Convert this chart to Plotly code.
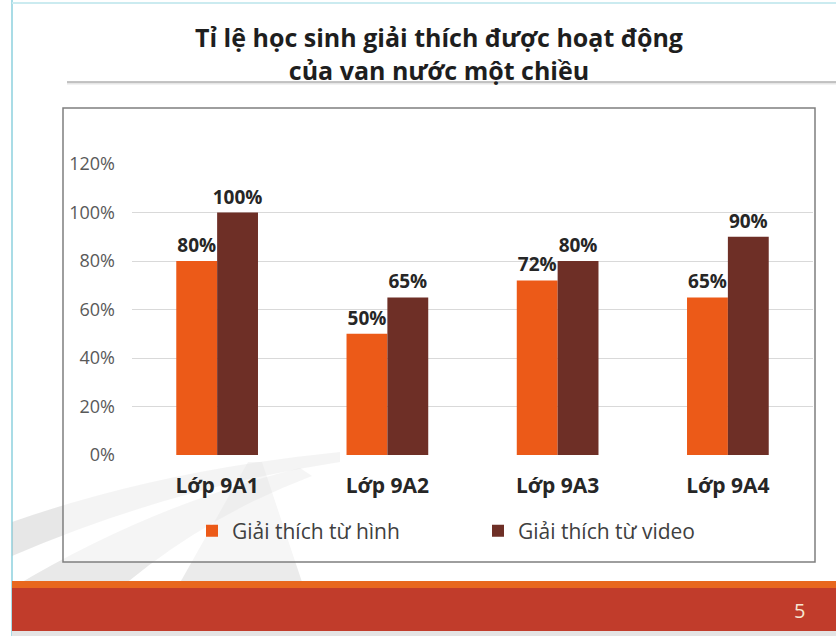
import plotly.graph_objs as go

# data
classes = ['Lớp 9A1', 'Lớp 9A2', 'Lớp 9A3', 'Lớp 9A4']
from_picture = [0.80, 0.50, 0.72, 0.65]
from_video = [1.00, 0.65, 0.80, 0.90]
series_names = ['Giải thích từ hình', 'Giải thích từ video']
y_ticks = [0, 0.2, 0.4, 0.6, 0.8, 1.0, 1.2]
y_ticklabels = ['0%', '20%', '40%', '60%', '80%', '100%', '120%']
title = 'Tỉ lệ học sinh giải thích được hoạt động<br>của van nước một chiều'

W, H = 836, 636
FONT = 'Open Sans'


def px(x):
    return x / W


def py(y):
    return 1 - y / H


def path(points):
    # points: list of (cmd, [(x, y), ...]) in pixel coordinates
    out = ''
    for cmd, pts in points:
        out += cmd + ' ' + ' '.join('%.4f,%.4f' % (px(x), py(y)) for x, y in pts) + ' '
    return out + 'Z'


label_font = dict(family=FONT, size=19, color='#262626', weight='bold')
trace1 = go.Bar(x=classes, y=from_picture, name=series_names[0], marker=dict(color='#EC5A18', line=dict(width=0)),
                text=['%d%%' % round(v * 100) for v in from_picture], textposition='outside', cliponaxis=False,
                constraintext='none', textfont=label_font)
trace2 = go.Bar(x=classes, y=from_video, name=series_names[1], marker=dict(color='#6E2F26', line=dict(width=0)),
                text=['%d%%' % round(v * 100) for v in from_video], textposition='outside', cliponaxis=False,
                constraintext='none', textfont=label_font)

shapes = [
    # left cyan border and top border
    dict(type='line', x0=px(12), x1=px(12), y0=0, y1=1, line=dict(color='#A9DCE6', width=2)),
    dict(type='line', x0=px(12), x1=1, y0=py(3), y1=py(3), line=dict(color='#CBEBF0', width=2)),
    # background swooshes
    dict(type='path', path=path([('M', [(12, 522)]), ('Q', [(160, 470), (340, 452)]), ('L', [(340, 462)]),
                                 ('Q', [(170, 488), (12, 556)])]),
         fillcolor='rgba(175,175,175,0.30)', line=dict(width=0)),
    dict(type='path', path=path([('M', [(12, 588)]), ('Q', [(150, 505), (300, 468)]), ('L', [(312, 476)]),
                                 ('Q', [(170, 530), (70, 636)]), ('L', [(12, 636)])]),
         fillcolor='rgba(175,175,175,0.28)', line=dict(width=0)),
    dict(type='path', path=path([('M', [(150, 636)]), ('L', [(248, 462)]), ('L', [(262, 462)]), ('L', [(320, 636)])]),
         fillcolor='rgba(175,175,175,0.25)', line=dict(width=0)),
    # title underline
    dict(type='line', x0=px(67), x1=1, y0=py(83), y1=py(83), line=dict(color='#E6E6E6', width=3)),
    dict(type='line', x0=px(67), x1=1, y0=py(82), y1=py(82), line=dict(color='#B5B5B5', width=1.5)),
    # chart box
    dict(type='rect', x0=px(63), x1=px(815), y0=py(562), y1=py(108),
         fillcolor='rgba(255,255,255,0.55)', line=dict(color='#7F7F7F', width=1.5)),
    # footer bar
    dict(type='rect', x0=px(12), x1=1, y0=py(588), y1=py(581), fillcolor='#E8671E', line=dict(width=0)),
    dict(type='rect', x0=px(12), x1=1, y0=py(631), y1=py(588), fillcolor='#C13C2B', line=dict(width=0)),
    dict(type='rect', x0=px(12), x1=1, y0=0, y1=py(631), fillcolor='#E4E4E4', line=dict(width=0)),
]
for s in shapes:
    s.update(xref='paper', yref='paper', layer='below')

annotations = [
    dict(text='<b>' + title + '</b>', x=px(439), y=py(54),
         font=dict(family=FONT, size=25, color='#1E1E1E')),
    dict(text='5', x=px(799), y=py(610), font=dict(family=FONT, size=20, color='#F6E7D2')),
]
for a in annotations:
    a.update(xref='paper', yref='paper', showarrow=False, xanchor='center', yanchor='middle')

layout = go.Layout(
    width=W, height=H, margin=dict(l=0, r=0, t=0, b=0, pad=0, autoexpand=False),
    paper_bgcolor='white', plot_bgcolor='rgba(0,0,0,0)',
    barmode='group', bargap=0.52, bargroupgap=0,
    xaxis=dict(domain=[px(132), px(813)], showgrid=False, showline=False, ticks='', automargin=False,
               tickfont=dict(family=FONT, size=21, color='#262626', weight='bold'), ticklabelstandoff=16),
    yaxis=dict(domain=[py(455), py(164)], range=[0, 1.2], tickvals=y_ticks, ticktext=y_ticklabels,
               showgrid=True, gridcolor='#D9D9D9', gridwidth=1, zeroline=False, showline=False, ticks='',
               automargin=False, tickfont=dict(family=FONT, size=18, color='#595959'), ticklabelstandoff=16),
    showlegend=True,
    legend=dict(orientation='h', x=px(478), xanchor='center', y=py(531), yanchor='middle',
                font=dict(family=FONT, size=21, color='#404040'), bgcolor='rgba(0,0,0,0)',
                entrywidth=241, itemwidth=30),
    shapes=shapes, annotations=annotations,
)

fig = go.Figure(data=[trace1, trace2], layout=layout)
fig.write_html("out.html", config={'displayModeBar': False},
               post_script="document.body.style.margin='0';document.body.style.overflow='hidden';")
